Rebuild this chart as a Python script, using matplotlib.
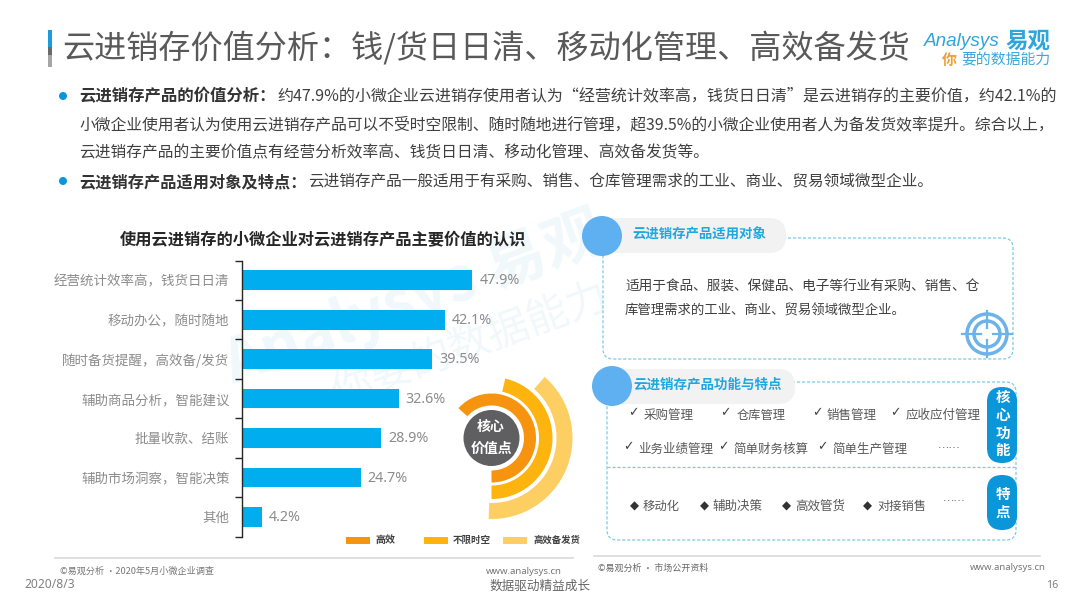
import matplotlib
matplotlib.use("Agg")
import matplotlib.pyplot as plt
from matplotlib.patches import Wedge, Circle, Rectangle, FancyBboxPatch
from matplotlib.lines import Line2D

plt.rcParams['font.family'] = ['Noto Sans CJK SC', 'DejaVu Sans']

CM = '\uff0c'  # full-width comma
CL = '\uff1a'  # full-width colon

categories = [f'经营统计效率高{CM}钱货日日清', f'移动办公{CM}随时随地', f'随时备货提醒{CM}高效备/发货',
              f'辅助商品分析{CM}智能建议', '批量收款、结账', f'辅助市场洞察{CM}智能决策', '其他']
values = [47.9, 42.1, 39.5, 32.6, 28.9, 24.7, 4.2]
legend_names = ['高效', '不限时空', '高效备发货']
check_row1 = ['采购管理', '仓库管理', '销售管理', '应收应付管理']
check_row2 = ['业务业绩管理', '简单财务核算', '简单生产管理']
feature_row = ['移动化', '辅助决策', '高效管货', '对接销售']

W, H = 1080, 608
fig = plt.figure(figsize=(W / 100, H / 100), dpi=100, facecolor='white')
bg = fig.add_axes([0, 0, 1, 1], zorder=0)
bg.set_xlim(0, W); bg.set_ylim(H, 0); bg.axis('off')
ov = fig.add_axes([0, 0, 1, 1], zorder=2)
ov.set_xlim(0, W); ov.set_ylim(H, 0); ov.axis('off'); ov.patch.set_alpha(0)
renderer = fig.canvas.get_renderer()


def fit(text, x0, x1, y, color='#595959', weight='normal', ax=ov, size=10, **kw):
    """Place text so that it spans x0..x1 in pixels, by scaling its font size."""
    t = ax.text(x0, y, text, color=color, weight=weight, fontsize=size, ha='left', va='center', **kw)
    w = t.get_window_extent(renderer).width
    t.set_fontsize(size * (x1 - x0) / w)
    return t


def mid(text, x, y, size, color='#595959', weight='normal', ax=ov, **kw):
    return ax.text(x, y, text, color=color, weight=weight, fontsize=size, ha='center', va='center', **kw)


# watermark
wm = '#f1f8fc'
bg.text(415, 300, 'Analysys 易观', color=wm, fontsize=44, weight='bold', rotation=20,
        ha='center', va='center', rotation_mode='anchor')
bg.text(470, 345, '你要的数据能力', color=wm, fontsize=30, rotation=20,
        ha='center', va='center', rotation_mode='anchor')

# title block
ov.add_patch(Rectangle((48, 30), 4, 17, color='#1b9be0', lw=0))
ov.add_patch(Rectangle((48, 47), 4, 8, color='#6a6a6a', lw=0))
ov.add_patch(Rectangle((48, 55), 4, 12, color='#a6a6a6', lw=0))
fit(f'云进销存价值分析{CL}钱/货日日清、移动化管理、高效备发货', 62, 910, 48, color='#595959')

# logo
fit('Analysys', 924, 1000, 42, color='#2ea6dc', style='italic', family=['Liberation Sans'])
fit('易观', 1005, 1050, 41, color='#2ea6dc', weight='bold')
fit('你', 942, 957, 60, color='#f0a035', style='italic', weight='bold')
fit('要的数据能力', 961, 1050, 60, color='#3aa8dc', style='italic')

# body text
body = '#404040'
for y in (96, 181):
    ov.add_patch(Circle((63, y), 4, color='#0a96dc', lw=0))
fit(f'云进销存产品的价值分析{CL}', 79, 276, 96, color='#333333', weight='bold')
fit(f'约47.9%的小微企业云进销存使用者认为“经营统计效率高{CM}钱货日日清”是云进销存的主要价值{CM}约42.1%的',
    277, 1056, 96, color=body)
fit(f'小微企业使用者认为使用云进销存产品可以不受时空限制、随时随地进行管理{CM}超39.5%的小微企业使用者人为备发货效率提升。综合以上{CM}',
    79, 1056, 125, color=body)
fit('云进销存产品的主要价值点有经营分析效率高、钱货日日清、移动化管理、高效备发货等。', 79, 706, 153, color=body)
fit(f'云进销存产品适用对象及特点{CL}', 79, 306, 182, color='#333333', weight='bold')
fit('云进销存产品一般适用于有采购、销售、仓库管理需求的工业、商业、贸易领域微型企业。', 308, 933, 182, color=body)

# bar chart
fit('使用云进销存的小微企业对云进销存产品主要价值的认识', 120, 526, 240, color='#262626', weight='bold')
x0, x1 = 242, 530
y0, y1 = 260.5, 536.5
ax = fig.add_axes([x0 / W, 1 - y1 / H, (x1 - x0) / W, (y1 - y0) / H], zorder=1)
ax.patch.set_alpha(0)
pos = list(range(len(values)))
ax.barh(pos, values, height=0.5, color='#00aeef')
ax.set_ylim(len(values) - 0.5, -0.5)
ax.set_xlim(0, (x1 - x0) / 4.81)
for s in ('top', 'right', 'bottom'):
    ax.spines[s].set_visible(False)
ax.spines['left'].set_color('#262626')
ax.spines['left'].set_linewidth(1.0)
ax.xaxis.set_visible(False)
ax.set_yticks([p - 0.5 for p in pos] + [len(values) - 0.5])
ax.set_yticklabels([])
ax.set_yticks(pos, minor=True)
ax.set_yticklabels(categories, minor=True, fontsize=9.7, color='#8c8c8c')
ax.tick_params(axis='y', which='major', length=5, width=1, color='#262626', direction='out')
ax.tick_params(axis='y', which='minor', length=0, pad=9)
for p, v in zip(pos, values):
    ax.annotate(f'{v}%', (v, p), xytext=(5, -0.5), textcoords='offset points', va='center', ha='left',
                fontsize=10.3, color='#8c8c8c', family=['Noto Sans'])

# radial decoration
cx, cy = 491.5, 438
ring_colors = ['#f7940f', '#fdb40f', '#fdcf62']
ring_radii = [(32.5, 44.5), (47.5, 61), (65, 81)]
ring_spans = [(-138, 90), (-77, 90), (-49, 92)]
for c, (r0, r1), (a, b) in zip(ring_colors, ring_radii, ring_spans):
    ov.add_patch(Wedge((cx, cy), r1, a, b, width=r1 - r0, color=c, lw=0))
ov.add_patch(Circle((cx, cy), 28, color='#5f5f61', lw=0))
mid('核心', 491, 427, 10, color='white', weight='bold')
mid('价值点', 491, 449, 10, color='white', weight='bold')

# legend
leg_x = [(346, 370, 375, 395), (424, 448, 453, 491), (503, 527, 534, 581)]
for name, c, (a, b, t0, t1) in zip(legend_names, ring_colors, leg_x):
    ov.add_patch(Rectangle((a, 537), b - a, 7, color=c, lw=0))
    fit(name, t0, t1, 540, color='#404040', weight='bold')

# footers
grey_line = '#d9d9d9'
ov.add_line(Line2D([55, 573], [558, 558], color=grey_line, lw=1.2))
ov.add_line(Line2D([594, 1040], [556, 556], color=grey_line, lw=1.2))
fit('©易观分析 ·2020年5月小微企业调查', 60, 214, 571, color='#777777')
fit('©易观分析 · 市场公开资料', 598, 708, 568, color='#666666')
fit('www.analysys.cn', 486, 562, 572, color='#777777', family=['Noto Sans'])
fit('www.analysys.cn', 970, 1046, 568, color='#777777', family=['Noto Sans'])
fit('2020/8/3', 24, 74, 585, color='#808080', family=['Noto Sans'])
fit('数据驱动精益成长', 490, 591, 586, color='#666666')
fit('16', 1046, 1058, 585, color='#808080', family=['Noto Sans'])

# right boxes
dash = '#7ccbe6'
dash_style = (0, (2.5, 1.5))
for (a, t, b, u) in [(603, 238, 1013, 359), (607, 382, 1016, 540)]:
    ov.add_patch(FancyBboxPatch((a + 8, t + 8), b - a - 16, u - t - 16, boxstyle='round,pad=8,rounding_size=10',
                                fc='none', ec=dash, lw=0.9, ls=dash_style))
ov.add_line(Line2D([607, 1016], [467, 467], color=dash, lw=0.9, ls=dash_style))

for (a, b, t, u, cc, yc) in [(602, 786, 218, 253, 602, 236), (612, 795, 369, 404, 612, 386)]:
    ov.add_patch(FancyBboxPatch((a, t + 17), b - a - 17, u - t - 34, boxstyle='round,pad=17,rounding_size=17',
                                fc='#f2f2f2', ec='none'))
    ov.add_patch(Circle((cc, yc), 20, color='#5fb0f0', lw=0))
fit('云进销存产品适用对象', 632, 766, 235, color='#1ea7e0', weight='bold')
fit('云进销存产品功能与特点', 633, 782, 385, color='#1ea7e0', weight='bold')

fit('适用于食品、服装、保健品、电子等行业有采购、销售、仓', 625, 979, 287, color=body)
fit('库管理需求的工业、商业、贸易领域微型企业。', 625, 906, 311, color=body)

# target icon
tx, ty = 987, 334
blue = '#6db3ea'
ov.add_patch(Circle((tx, ty), 20, fc='none', ec=blue, lw=2.5))
ov.add_patch(Circle((tx, ty), 13, fc='none', ec=blue, lw=2.5))
ov.add_line(Line2D([tx - 25, tx - 6], [ty, ty], color=blue, lw=1.6))
ov.add_line(Line2D([tx + 6, tx + 25], [ty, ty], color=blue, lw=1.6))
ov.add_line(Line2D([tx, tx], [ty - 23, ty - 6], color=blue, lw=1.6))
ov.add_line(Line2D([tx, tx], [ty + 6, ty + 23], color=blue, lw=1.6))

# checklist
item_c = '#595959'
row1_x = [(633, 644, 694), (725, 737, 786), (817, 827, 877), (895, 906, 981)]
row2_x = [(628, 638, 713), (723, 733, 808), (822, 832, 907)]
for names, xs, y in [(check_row1, row1_x, 415), (check_row2, row2_x, 449)]:
    for n, (m, a, b) in zip(names, xs):
        mid('✓', m, y - 2, 9, color='#404040', family=['DejaVu Sans'])
        fit(n, a, b, y, color=item_c)
row3_x = [(634, 643, 680), (704, 713, 763), (786, 795, 845), (867, 877, 926)]
for n, (m, a, b) in zip(feature_row, row3_x):
    mid('◆', m, 506, 8.5, color='#333333', family=['DejaVu Sans'])
    fit(n, a, b, 506, color=item_c)
fit('……', 938, 961, 445, color='#595959', family=['DejaVu Sans'])
fit('……', 943, 966, 498, color='#595959', family=['DejaVu Sans'])

# side pills
pill = '#0a96d8'
for (t, u) in [(387, 463), (475, 530)]:
    ov.add_patch(FancyBboxPatch((1002, t + 15), 0.1, u - t - 30, boxstyle='round,pad=15,rounding_size=15',
                                fc=pill, ec='none'))
for ch, y in zip('核心功能', (397, 415, 433, 450)):
    mid(ch, 1003, y, 10.5, color='white', weight='bold')
for ch, y in zip('特点', (494, 512)):
    mid(ch, 1003, y, 10.5, color='white', weight='bold')

fig.savefig('out.png', dpi=100, facecolor='white')
